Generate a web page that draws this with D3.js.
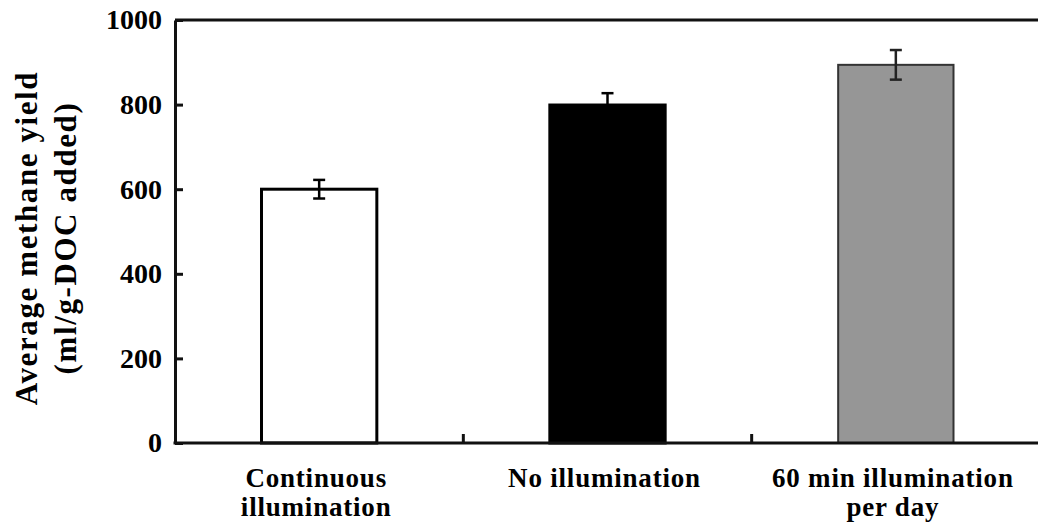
<!DOCTYPE html>
<html>
<head>
<meta charset="utf-8">
<script src="https://cdn.jsdelivr.net/npm/d3@7"></script>
<style>
  body { margin: 0; background: #fff; }
  text { font-family: "Liberation Serif", "Times New Roman", serif; font-weight: bold; fill: #000; }
</style>
</head>
<body>
<div id="chart"></div>
<script>
    // data
    var categories = ["Continuous illumination", "No illumination", "60 min illumination per day"];
    var labelLines = [["Continuous", "illumination"], ["No illumination"], ["60 min illumination", "per day"]];
    var yields = [600, 799, 894];
    var errors = [22, 28, 35];
    var barFills = ["#ffffff", "#000000", "#969696"];
    var barStrokes = ["#000000", "#000000", "#333333"];
    var yTicks = [0, 200, 400, 600, 800, 1000];

    var width = 1038, height = 529;
    var margin = { top: 20, right: -2, bottom: 86, left: 175 };

    var svg = d3.select("#chart")
        .append("svg")
        .attr("width", width)
        .attr("height", height);

    // x: one band per category, bar sits in the middle 40%
    var x = d3.scaleBand()
        .domain(categories)
        .range([margin.left, width - margin.right])
        .padding(0);

    var y = d3.scaleLinear()
        .domain([0, 1000])
        .range([height - margin.bottom, margin.top]);

    var barW = x.bandwidth() * 0.4;

    // top frame line
    svg.append("line")
        .attr("x1", margin.left).attr("x2", width - margin.right)
        .attr("y1", y(1000)).attr("y2", y(1000))
        .attr("stroke", "#111").attr("stroke-width", 3);

    // bars
    svg.selectAll(".bar")
        .data(categories)
        .enter()
        .append("rect")
        .attr("class", "bar")
        .attr("x", function(d) { return x(d) + (x.bandwidth() - barW) / 2; })
        .attr("y", function(d, i) { return y(yields[i]); })
        .attr("width", barW)
        .attr("height", function(d, i) { return y(0) - y(yields[i]); })
        .attr("fill", function(d, i) { return barFills[i]; })
        .attr("stroke", function(d, i) { return barStrokes[i]; })
        .attr("stroke-width", function(d, i) { return i == 2 ? 2 : 3; });

    // error bars
    var capW = 12;
    var eb = svg.selectAll(".err")
        .data(categories)
        .enter()
        .append("g")
        .attr("class", "err")
        .attr("stroke", function(d, i) { return i == 2 ? "#222" : "#000"; })
        .attr("stroke-width", 2.5);

    eb.append("line")
        .attr("x1", function(d) { return x(d) + x.bandwidth() / 2; })
        .attr("x2", function(d) { return x(d) + x.bandwidth() / 2; })
        .attr("y1", function(d, i) { return y(yields[i] + errors[i]); })
        .attr("y2", function(d, i) { return y(yields[i] - errors[i]); });
    [1, -1].forEach(function(s) {
        eb.append("line")
            .attr("x1", function(d) { return x(d) + x.bandwidth() / 2 - capW / 2; })
            .attr("x2", function(d) { return x(d) + x.bandwidth() / 2 + capW / 2; })
            .attr("y1", function(d, i) { return y(yields[i] + s * errors[i]); })
            .attr("y2", function(d, i) { return y(yields[i] + s * errors[i]); });
    });

    // y axis, ticks pointing inward
    var yAxis = svg.append("g")
        .attr("transform", "translate(" + margin.left + ",0)")
        .call(d3.axisLeft(y).tickValues(yTicks).tickFormat(d3.format("d"))
            .tickSize(-8).tickSizeOuter(0).tickPadding(13));
    yAxis.select(".domain").attr("stroke", "#111").attr("stroke-width", 3);
    yAxis.selectAll(".tick line").attr("stroke", "#111").attr("stroke-width", 3);
    yAxis.selectAll(".tick text")
        .style("font-size", "28px")
        .style("font-family", "Liberation Serif")
        .style("font-weight", "bold")
        .attr("fill", "#000");

    // x axis line with inward ticks at category boundaries
    svg.append("line")
        .attr("x1", margin.left - 1.5).attr("x2", width - margin.right)
        .attr("y1", y(0)).attr("y2", y(0))
        .attr("stroke", "#111").attr("stroke-width", 3);
    svg.selectAll(".xtick")
        .data(categories.slice(1))
        .enter()
        .append("line")
        .attr("x1", function(d) { return x(d); })
        .attr("x2", function(d) { return x(d); })
        .attr("y1", y(0))
        .attr("y2", y(0) - 9)
        .attr("stroke", "#111").attr("stroke-width", 3);

    // category labels
    var xl = svg.selectAll(".xlab")
        .data(categories)
        .enter()
        .append("text")
        .attr("class", "xlab")
        .attr("text-anchor", "middle")
        .style("font-size", "27px")
        .style("letter-spacing", "0.8px");
    xl.each(function(d, i) {
        var t = d3.select(this);
        labelLines[i].forEach(function(line, k) {
            t.append("tspan")
                .attr("x", x(d) + x.bandwidth() / 2 - 3)
                .attr("y", 487 + k * 29)
                .text(line);
        });
    });

    // y axis title
    var yt = svg.append("text")
        .attr("transform", "translate(37,238) rotate(-90)")
        .attr("text-anchor", "middle")
        .style("font-size", "31px")
        .style("letter-spacing", "1.6px");
    yt.append("tspan").attr("x", 0).attr("y", 0).text("Average methane yield");
    yt.append("tspan").attr("x", 0).attr("y", 39).text("(ml/g-DOC added)");
</script>
</body>
</html>
